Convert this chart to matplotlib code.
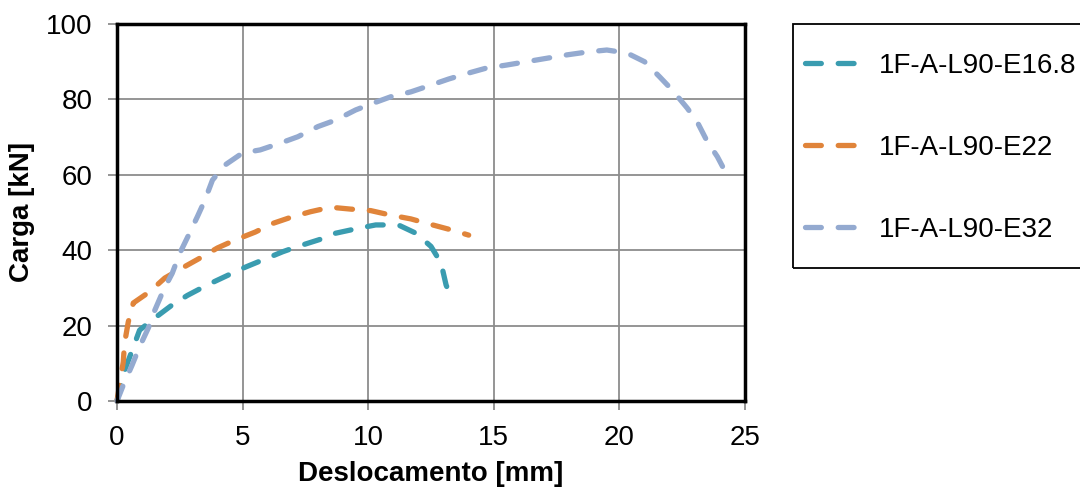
import matplotlib
matplotlib.use("Agg")
import matplotlib.pyplot as plt
from matplotlib.patches import Rectangle

plt.rcParams['font.family'] = ['Liberation Sans', 'DejaVu Sans']

# 1F-A-L90-E16.8
x_e168 = [0, 0.3, 0.9, 1.5, 2.2, 2.8, 3.6, 4.3, 5.0, 5.8, 6.6, 7.2, 8.1, 8.7, 9.6, 10.3,
          11.2, 11.9, 12.5, 12.9, 13.1, 13.35]
y_e168 = [0, 8, 18.8, 22, 25.5, 28, 30.8, 33, 35.2, 37.4, 39.6, 41, 42.9, 44.5, 45.8, 46.7,
          46.7, 44.5, 41, 36.6, 30.8, 26.5]

# 1F-A-L90-E22
x_e22 = [0, 0.25, 0.3, 0.45, 0.65, 1.3, 1.9, 2.6, 3.3, 4.0, 4.7, 5.5, 6.2, 7.0, 7.7, 8.5,
         9.3, 10.1, 10.9, 11.7, 12.4, 13.3, 14.0]
y_e22 = [0, 10.4, 15.3, 21, 26, 29, 32.6, 35.3, 37.9, 40.6, 42.7, 44.8, 47.1, 48.9, 50.2, 51.4,
         50.9, 50.5, 49.3, 48.3, 47, 45.4, 44]

# 1F-A-L90-E32
x_e32 = [0, 0.25, 0.6, 0.9, 1.25, 1.5, 1.85, 2.2, 2.5, 2.85, 3.2, 3.5, 3.8, 4.3, 5.0, 5.7,
         6.5, 7.2, 8.0, 8.7, 9.5, 10.2, 10.9, 11.7, 12.5, 13.2, 14.0, 14.7, 15.5, 16.3, 17.1,
         17.9, 18.75, 19.5, 20.3, 21.0, 21.6, 22.1, 22.7, 23.1, 23.5, 23.9, 24.4]
y_e32 = [0, 4.2, 9.5, 14.4, 19.4, 24, 29.4, 33.9, 39.2, 44, 48.9, 53.3, 58.6, 62.6, 65.8, 66.6,
         68.4, 70.1, 72.8, 74.5, 77.2, 79, 80.7, 82, 83.8, 85.4, 87, 88.3, 89.1, 90, 90.9,
         91.8, 92.6, 93.1, 92.3, 90, 86, 82.5, 77.7, 74, 68.8, 64.8, 58.5]

labels = ['1F-A-L90-E16.8', '1F-A-L90-E22', '1F-A-L90-E32']
colors = ['#3A9CB0', '#E0843A', '#94AAD0']

W, H = 1080, 488
fig = plt.figure(figsize=(10.8, 4.88), dpi=100)
ax = fig.add_axes([117/W, 1 - 401/H, (745-117)/W, (401-24)/H])

series = [(x_e168, y_e168), (x_e22, y_e22), (x_e32, y_e32)]
for (xs, ys), lab, c in zip(series, labels, colors):
    ax.plot(xs, ys, color=c, lw=3.8, linestyle=(0, (3, 3.2)),
            dash_capstyle='round', label=lab, clip_on=False)

ax.set_xlim(0, 25)
ax.set_ylim(0, 100)
ax.set_xticks(range(0, 26, 5))
ax.set_yticks(range(0, 101, 20))
ax.grid(True, color='#8c8c8c', lw=1.3)
ax.set_axisbelow(True)
for s in ax.spines.values():
    s.set_color('black')
    s.set_linewidth(2.5)
ax.tick_params(labelsize=20, color='#8c8c8c', length=6.5, width=1.3)
ax.tick_params(axis='y', pad=11)
ax.tick_params(axis='x', pad=11)

ax.set_xlabel('Deslocamento [mm]', fontsize=20, fontweight='bold', labelpad=7)
ax.set_ylabel('Carga [kN]', fontsize=20, fontweight='bold', labelpad=8)

# legend box drawn separately, entries placed inside it
fig.patches.append(Rectangle((793/W, 1 - 268/H), (1100-793)/W, (268-24)/H,
                             transform=fig.transFigure, fill=False,
                             edgecolor='black', lw=1.3))
leg = fig.legend(loc='upper left', bbox_to_anchor=(805/W, 1 - 53/H),
                 fontsize=20, frameon=False, labelspacing=2.01,
                 handlelength=2.15, handletextpad=0.5,
                 borderpad=0, borderaxespad=0)

fig.savefig('out.png', dpi=100)
